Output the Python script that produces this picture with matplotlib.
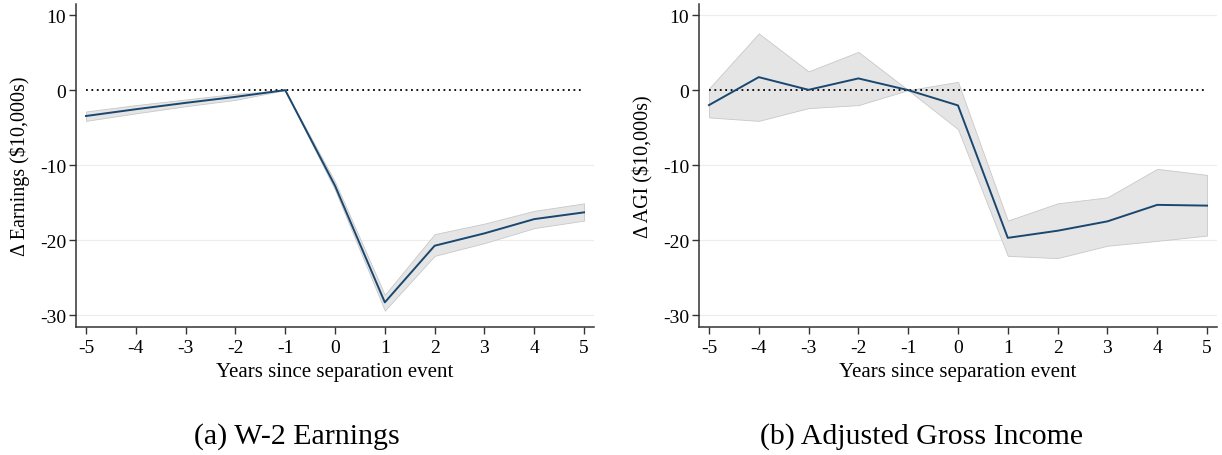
import matplotlib.pyplot as plt
import numpy as np

plt.rcParams['font.family'] = ['Liberation Serif', 'DejaVu Serif']

# 数据
years = [-5, -4, -3, -2, -1, 0, 1, 2, 3, 4, 5]

earn = [-3.45, -2.55, -1.7, -0.9, 0.0, -12.75, -28.3, -20.75, -19.1, -17.2, -16.3]
earn_hi = [-2.85, -2.0, -1.25, -0.5, 0.0, -12.2, -27.3, -19.2, -17.8, -16.1, -15.1]
earn_lo = [-4.1, -3.1, -2.15, -1.3, 0.0, -13.3, -29.4, -22.1, -20.4, -18.4, -17.4]

agi = [-2.0, 1.73, 0.04, 1.56, 0.0, -2.04, -19.7, -18.75, -17.5, -15.3, -15.4]
agi_hi = [0.2, 7.56, 2.5, 5.1, 0.0, 1.1, -17.4, -15.1, -14.3, -10.5, -11.3]
agi_lo = [-3.64, -4.1, -2.4, -2.0, 0.0, -5.2, -22.1, -22.4, -20.75, -20.1, -19.4]

yticks = [10, 0, -10, -20, -30]
ylabels = ['Δ Earnings ($10,000s)', 'Δ AGI ($10,000s)']
captions = ['(a) W-2 Earnings', '(b) Adjusted Gross Income']

fig = plt.figure(figsize=(12.22, 4.56), dpi=100)
ax1 = fig.add_axes([0.0622, 0.2813, 0.4239, 0.708])
ax2 = fig.add_axes([0.572, 0.2813, 0.4239, 0.708])

panels = [(ax1, earn, earn_lo, earn_hi), (ax2, agi, agi_lo, agi_hi)]
for i, (ax, y, lo, hi) in enumerate(panels):
    # 网格线
    for t in yticks:
        if t == 0:
            continue
        if i == 0 and t == 10:
            continue
        ax.axhline(t, color='#ececec', lw=0.8, zorder=0)
    ax.fill_between(years, lo, hi, color='#e5e5e5', edgecolor='#c8c8c8',
                    lw=0.6, zorder=1)
    ax.plot([-5, 5], [0, 0], color='black', ls=(0, (1, 2)), lw=1.3, zorder=2)
    ax.plot(years, y, color='#1a476f', lw=1.4, zorder=3)

    ax.set_xlim(-5.2, 5.2)
    ax.set_ylim(-31.55, 11.5)
    ax.set_xticks(years)
    ax.set_yticks(yticks)
    ax.tick_params(axis='both', direction='out', length=5, width=1,
                   color='#333333', labelsize=14, pad=2)
    ax.tick_params(axis='x', pad=4)
    for s in ['top', 'right']:
        ax.spines[s].set_visible(False)
    for s in ['left', 'bottom']:
        ax.spines[s].set_color('#333333')
        ax.spines[s].set_linewidth(1.1)
    ax.set_xlabel('Years since separation event', fontsize=15, labelpad=4)
    ax.set_ylabel(ylabels[i], fontsize=14.5, labelpad=7)

plt.rcParams['axes.unicode_minus'] = False
fig.text(297 / 1222, 1 - 437 / 456, captions[0], fontsize=21.5,
         ha='center', va='center')
fig.text(921 / 1222, 1 - 437 / 456, captions[1], fontsize=21.5,
         ha='center', va='center')

plt.savefig('out.png', dpi=100)
